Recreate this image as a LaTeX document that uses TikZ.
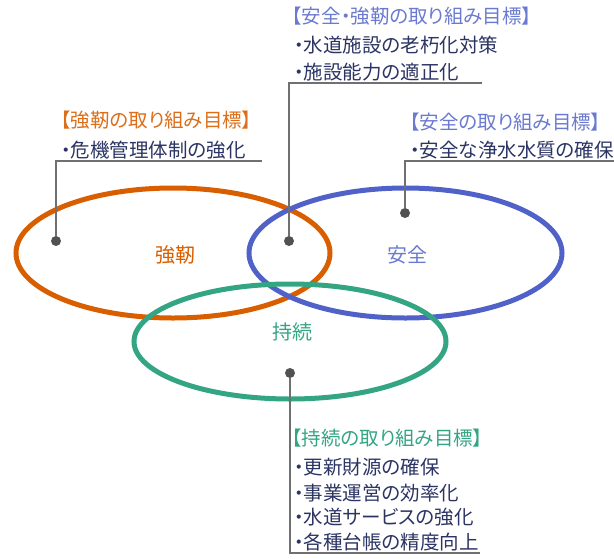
\documentclass[tikz,border=0pt]{standalone}
\usepackage{fontspec}
\setmainfont[RawFeature=+palt]{Noto Sans CJK JP}
\usetikzlibrary{positioning}

\begin{document}
\begin{tikzpicture}[x=1pt,y=-1pt]
      \definecolor{clrK}{RGB}{216,94,0}
      \definecolor{clrA}{RGB}{80,98,200}
      \definecolor{clrJ}{RGB}{52,165,131}
      \definecolor{clrTxt}{RGB}{43,52,99}
      \definecolor{clrLine}{RGB}{112,112,112}
      \tikzset{goal/.style={anchor=west,inner sep=0pt,text=clrTxt,font=\fontsize{19.5}{19.5}\selectfont},
               head/.style={goal,text=#1},
               tag/.style={inner sep=0pt,text=#1,font=\fontsize{20}{20}\selectfont},
               dot/.style={circle,fill=black!68,inner sep=0pt,minimum size=10pt},
               lead/.style={clrLine,line width=2pt},
               ring/.style={line width=5pt}}
      \useasboundingbox (0,0) rectangle (614,558);

      \draw[ring,clrK] (173,253) ellipse [x radius=157,y radius=65];
      \draw[ring,clrA] (405.5,253) ellipse [x radius=156.5,y radius=65];
      \draw[ring,clrJ] (290,341.5) ellipse [x radius=156,y radius=57.5];

      \node[tag=clrK] (kyo) at (175,255) {強靭};
      \node[tag=clrA!85!white] (anz) at (407,255) {安全};
      \node[tag=clrJ] (jiz) at (292,332) {持続};

      \node[dot] (dK) at (56,241) {};
      \node[dot] (dKA) at (289,241) {};
      \node[dot] (dA) at (405,213) {};
      \node[dot] (dJ) at (290,373) {};
      \coordinate (eK) at (262,161);
      \coordinate (eKA) at (482,83);
      \coordinate (eA) at (614,161);
      \coordinate (eJ) at (480,553);
      \draw[lead] (dK) |- (eK);
      \draw[lead] (dKA) |- (eKA);
      \draw[lead] (dA) |- (eA);
      \draw[lead] (dJ) |- (eJ);

      \node[head=clrA!85!white] (tKA) at (292,16) {【安全・強靭の取り組み目標】};
      \node[goal] (gKA1) at (294,45) {・水道施設の老朽化対策};
      \node[goal] (gKA2) at (294,72) {・施設能力の適正化};

      \node[head=clrK!90!white] (tK) at (61,120) {【強靭の取り組み目標】};
      \node[goal] (gK1) at (61,150) {・危機管理体制の強化};

      \node[head=clrA!85!white] (tA) at (410,122) {【安全の取り組み目標】};
      \node[goal] (gA1) at (410,150) {・安全な浄水水質の確保};

      \node[head=clrJ] (tJ) at (292,438) {【持続の取り組み目標】};
      \node[goal] (gJ1) at (294,467) {・更新財源の確保};
      \node[goal] (gJ2) at (294,493) {・事業運営の効率化};
      \node[goal] (gJ3) at (294,517) {・水道サービスの強化};
      \node[goal] (gJ4) at (294,542) {・各種台帳の精度向上};
    \end{tikzpicture}
\end{document}
